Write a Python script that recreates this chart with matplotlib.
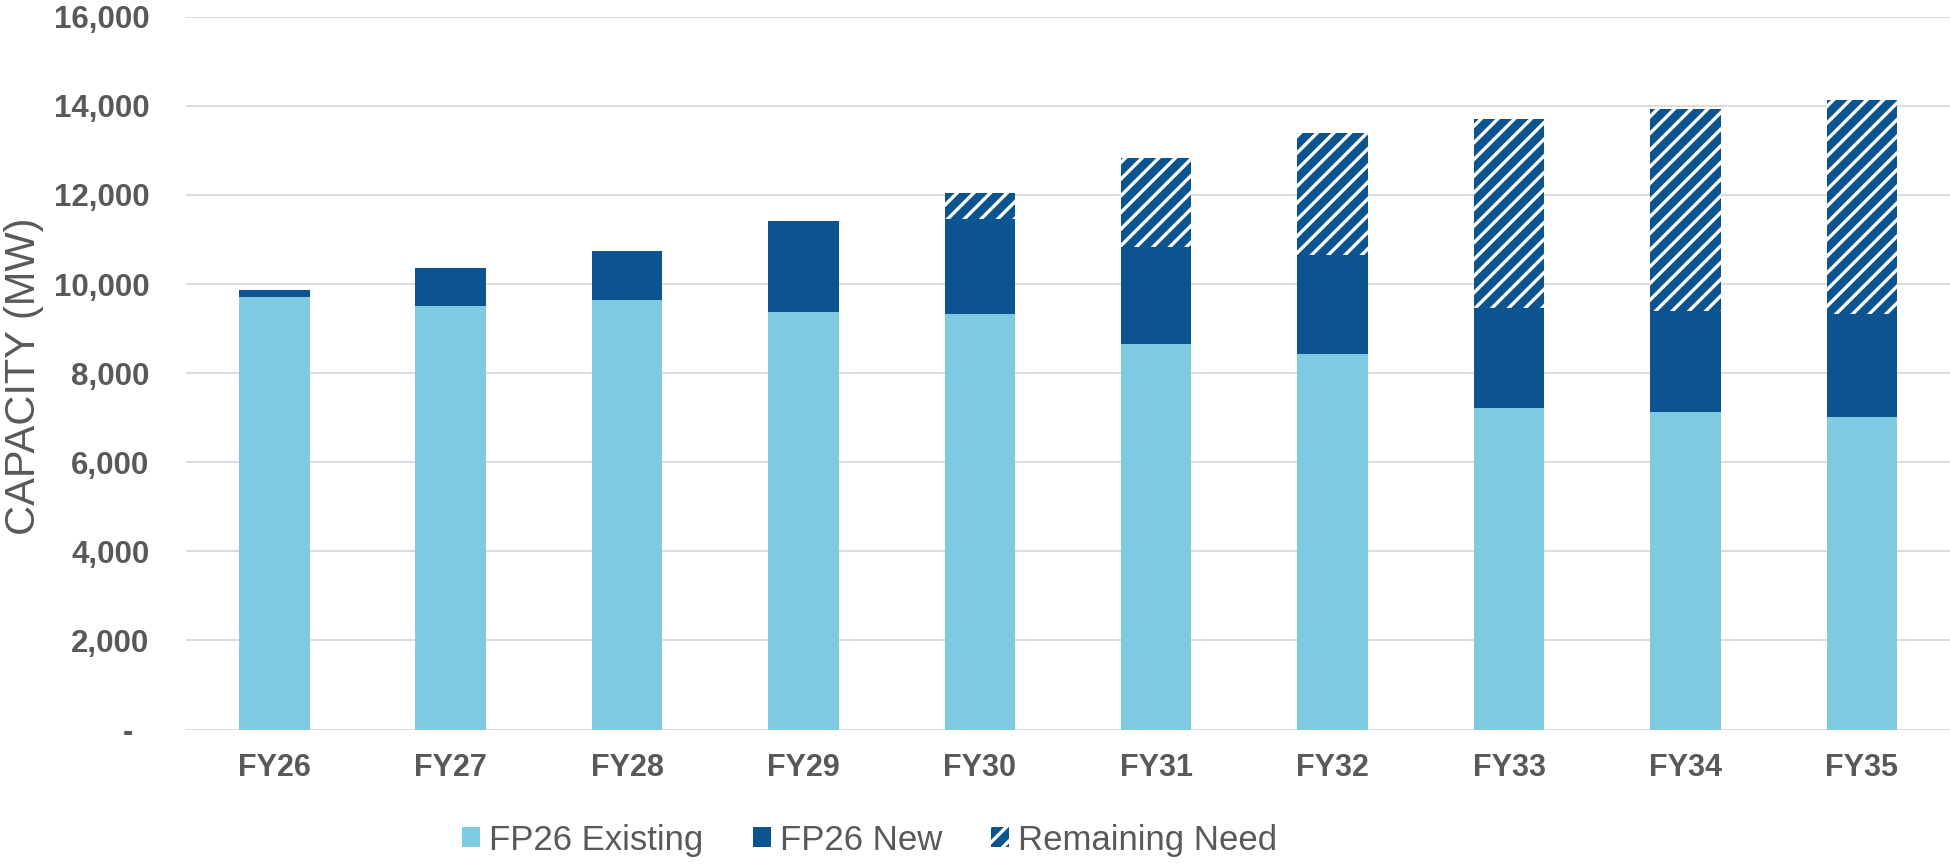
import matplotlib
matplotlib.use("Agg")
import matplotlib.pyplot as plt
import numpy as np
from matplotlib.ticker import FuncFormatter

plt.rcParams['font.family'] = ['Liberation Sans', 'DejaVu Sans']
plt.rcParams['hatch.linewidth'] = 2.4

# data (MW)
years = ['FY26', 'FY27', 'FY28', 'FY29', 'FY30', 'FY31', 'FY32', 'FY33', 'FY34', 'FY35']
existing = [9710, 9515, 9635, 9362, 9335, 8654, 8437, 7220, 7130, 7012]
new = [155, 843, 1112, 2046, 2134, 2168, 2206, 2234, 2272, 2308]
remaining = [0, 0, 0, 0, 576, 2008, 2740, 4247, 4518, 4807]

light = '#7FC9E1'
dark = '#0B5490'
grey = '#595959'

fig = plt.figure(figsize=(19.5, 8.66), dpi=100)
ax = fig.add_axes([0.0954, 0.1575, 0.9046, 0.8232])

x = np.arange(len(years))
w = 0.40
existing = np.array(existing)
new = np.array(new)
remaining = np.array(remaining)

ax.bar(x, existing, w, color=light, linewidth=0, label='FP26 Existing', zorder=3)
ax.bar(x, new, w, bottom=existing, color=dark, linewidth=0, label='FP26 New', zorder=3)
ax.bar(x, remaining, w, bottom=existing + new, facecolor=dark, edgecolor='white',
       hatch='//', linewidth=0, label='Remaining Need', zorder=3)

ax.set_xlim(-0.5, len(years) - 0.5)
ax.set_ylim(0, 16000)
ax.set_yticks(np.arange(0, 16001, 2000))
ax.yaxis.set_major_formatter(FuncFormatter(lambda v, p: '-' if v == 0 else f'{v:,.0f}'))
ax.set_xticks(x)
ax.set_xticklabels(years)

ax.grid(axis='y', color='#D9D9D9', linewidth=1.3, zorder=0)
ax.set_axisbelow(True)
for s in ax.spines.values():
    s.set_visible(False)

ax.tick_params(axis='y', length=0, pad=26.4, labelsize=22.5, labelcolor=grey)
ax.tick_params(axis='x', length=0, pad=17, labelsize=22, labelcolor=grey)
for lab in ax.get_xticklabels() + ax.get_yticklabels():
    lab.set_fontweight('bold')
# the zero label sits a little further left, like Excel's accounting format
ax.yaxis.get_major_ticks()[0].set_pad(38)

ax.set_ylabel('CAPACITY (MW)', fontsize=30, color=grey)
ax.yaxis.set_label_coords(-0.0808, 0.495)

leg = fig.legend(loc='center', bbox_to_anchor=(0.446, 0.03), ncol=3, frameon=False,
                 fontsize=25, handlelength=0.52, handleheight=0.52,
                 handletextpad=0.26, columnspacing=1.41, borderaxespad=0)
for t in leg.get_texts():
    t.set_color(grey)

fig.savefig('out.png', dpi=100)
